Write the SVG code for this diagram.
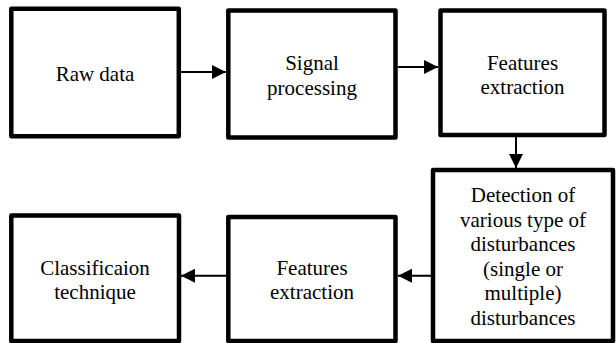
<svg xmlns="http://www.w3.org/2000/svg" width="616" height="343" viewBox="0 0 616 343">
  <style>
    .box { fill: #ffffff; stroke: #000000; stroke-width: 4.5; stroke-linejoin: round; }
    .lbl { font-family: "Liberation Serif", "Times New Roman", serif; font-size: 21px; fill: #000000; text-anchor: middle; }
    .conn { stroke: #000000; stroke-width: 2; fill: none; }
  </style>
  <defs>
    <marker id="arrow" viewBox="0 0 14 14" refX="14" refY="7" markerWidth="14" markerHeight="14" markerUnits="userSpaceOnUse" orient="auto">
      <path d="M0,0 L14,7 L0,14 Z" fill="#000000"/>
    </marker>
  </defs>
  <rect width="616" height="343" fill="#ffffff"/>

  <g id="raw-data">
    <rect class="box" x="11.3" y="8.8" width="167.5" height="127.4"/>
    <text class="lbl" x="95" y="81">Raw data</text>
  </g>
  <g id="signal-processing">
    <rect class="box" x="228.3" y="10.5" width="167.2" height="127"/>
    <text class="lbl" x="312" y="70">Signal</text>
    <text class="lbl" x="312" y="94.5">processing</text>
  </g>
  <g id="features-extraction-1">
    <rect class="box" x="440.5" y="10.5" width="164" height="124.5"/>
    <text class="lbl" x="522.5" y="69.5">Features</text>
    <text class="lbl" x="522.5" y="94">extraction</text>
  </g>
  <g id="detection">
    <rect class="box" x="433" y="170" width="180" height="171"/>
    <text class="lbl" x="523" y="202">Detection of</text>
    <text class="lbl" x="523" y="226.6">various type of</text>
    <text class="lbl" x="523" y="251.2">disturbances</text>
    <text class="lbl" x="523" y="275.8">(single or</text>
    <text class="lbl" x="523" y="300.4">multiple)</text>
    <text class="lbl" x="523" y="325">disturbances</text>
  </g>
  <g id="features-extraction-2">
    <rect class="box" x="228.3" y="217" width="167.2" height="124"/>
    <text class="lbl" x="312" y="275">Features</text>
    <text class="lbl" x="312" y="299.3">extraction</text>
  </g>
  <g id="classification">
    <rect class="box" x="11.3" y="215.5" width="167.7" height="125.5"/>
    <text class="lbl" x="95" y="275">Classificaion</text>
    <text class="lbl" x="95" y="299.3">technique</text>
  </g>

  <g id="connectors">
    <line class="conn" x1="181" y1="72" x2="226" y2="72" marker-end="url(#arrow)"/>
    <line class="conn" x1="398" y1="67" x2="438" y2="67" marker-end="url(#arrow)"/>
    <line class="conn" x1="516" y1="137" x2="516" y2="168" marker-end="url(#arrow)"/>
    <line class="conn" x1="431" y1="275.7" x2="398" y2="275.7" marker-end="url(#arrow)"/>
    <line class="conn" x1="226" y1="275.7" x2="181" y2="275.7" marker-end="url(#arrow)"/>
  </g>
</svg>
